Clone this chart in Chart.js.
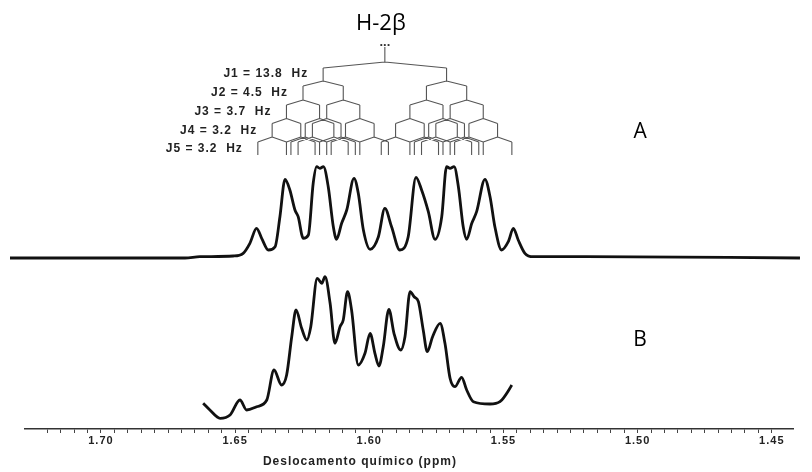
<!DOCTYPE html>
<html>
<head>
<meta charset="utf-8">
<title>H-2β</title>
<script src="https://cdn.jsdelivr.net/npm/chart.js@4.4.1/dist/chart.umd.min.js"></script>
<style>
  html, body { margin: 0; padding: 0; background: #fff; }
  #wrap { width: 812px; height: 472px; position: relative; }
</style>
</head>
<body>
<div id="wrap"><canvas id="nmr"></canvas></div>
<script>
// spectrum A (simulated multiplet) - chemical shift (ppm) and intensity (a.u.)
const ppmA = [1.7339, 1.6687, 1.6631, 1.6507, 1.6470, 1.6445, 1.6420, 1.6401, 1.6376, 1.6351,
  1.6333, 1.6314, 1.6296, 1.6277, 1.6265, 1.6246, 1.6227, 1.6209, 1.6196, 1.6184,
  1.6171, 1.6153, 1.6134, 1.6122, 1.6103, 1.6084, 1.6057, 1.6041, 1.6022, 1.5997,
  1.5966, 1.5942, 1.5917, 1.5886, 1.5855, 1.5826, 1.5805, 1.5780, 1.5755, 1.5730,
  1.5712, 1.5699, 1.5684, 1.5668, 1.5650, 1.5637, 1.5618, 1.5600, 1.5569, 1.5550,
  1.5532, 1.5507, 1.5482, 1.5463, 1.5445, 1.5420, 1.5389, 1.5192, 1.4395];
const intensityA = [0, 0, 1.3, 2, 4.7, 14.7, 29.7, 19.7, 8, 11.3,
  41.3, 78.7, 68, 48, 41.3, 19.7, 23, 74.7, 91.3, 89.7,
  91.3, 71.3, 31.3, 18.7, 34.7, 48, 79.7, 64.7, 28, 8.7,
  21.3, 49.7, 31.3, 8, 21.3, 80.7, 68, 46.3, 18.7, 41.3,
  91.3, 89.7, 91.3, 71.3, 31.3, 18.7, 34.7, 46.3, 78.7, 61.3,
  31.3, 8, 16.3, 29.7, 18, 4.7, 1.3, 1.3, 0];

// spectrum B (experimental)
const ppmB = [1.6619, 1.6594, 1.6556, 1.6519, 1.6482, 1.6457, 1.6420, 1.6382, 1.6355, 1.6327,
  1.6308, 1.6289, 1.6273, 1.6252, 1.6233, 1.6218, 1.6194, 1.6177, 1.6165, 1.6146,
  1.6128, 1.6109, 1.6097, 1.6081, 1.6066, 1.6041, 1.6016, 1.5997, 1.5979, 1.5964,
  1.5948, 1.5927, 1.5908, 1.5883, 1.5867, 1.5848, 1.5833, 1.5817, 1.5799, 1.5784,
  1.5764, 1.5736, 1.5718, 1.5699, 1.5681, 1.5656, 1.5637, 1.5612, 1.5550, 1.5513,
  1.5476, 1.5469];
const intensityB = [16.7, 10, 1.7, 5, 20, 10, 13.3, 20, 50, 35,
  45, 83.3, 110, 91.7, 80, 93.3, 141.7, 136.7, 143.3, 116.7,
  76.7, 93.3, 100, 128.3, 110, 55, 66.7, 86.7, 66.7, 54,
  73.3, 110.7, 86.7, 70, 83.3, 128.3, 123.3, 118.3, 90, 68.3,
  83.3, 96.7, 76.7, 41.7, 33.3, 42.7, 30, 18.3, 16, 18.3,
  31.7, 35];

// splitting tree
const couplingsHz = [13.8, 4.5, 3.7, 3.2, 3.2];
const couplingLabels = ['J1 = 13.8  Hz', 'J2 = 4.5  Hz', 'J3 = 3.7  Hz', 'J4 = 3.2  Hz', 'J5 = 3.2  Hz'];
const SPECTROMETER_MHZ = 300;
const CENTER_PPM = 1.5942;
const PEAK_LABEL = 'H-2β';
const spectrumLabels = ['A', 'B'];

// axis
const PPM_MIN = 1.4421, PPM_MAX = 1.7283;
const AXIS_TITLE = 'Deslocamento químico (ppm)';

// vertical layout (y units)
const A_BASE = 171, B_BASE = 9;
const STEM_TOP = 382;
const levelY = [367, 348, 329, 310.5, 292, 274];
const roofDrop = [6, 5, 5, 5, 5];

const toPoints = (xs, ys, base) => xs.map((v, i) => ({x: v, y: ys[i] + base}));

// build the tree line segments from the couplings
const treePts = [];
const seg = (x1, y1, x2, y2) => { treePts.push({x: x1, y: y1}, {x: x2, y: y2}, {x: x2, y: null}); };
let nodes = [CENTER_PPM];
const leftNodes = [];
seg(CENTER_PPM, STEM_TOP, CENTER_PPM, levelY[0]);
couplingsHz.forEach((j, k) => {
  const half = j / 2 / SPECTROMETER_MHZ;
  const top = levelY[k], roof = top - roofDrop[k], bottom = levelY[k + 1];
  const next = [];
  nodes.forEach(n => {
    seg(n, top, n + half, roof);
    seg(n, top, n - half, roof);
    seg(n + half, roof, n + half, bottom);
    seg(n - half, roof, n - half, bottom);
    next.push(n + half, n - half);
  });
  nodes = next;
  leftNodes.push(Math.max(...next));
});

const annotations = {
  id: 'annotations',
  beforeDraw(chart) { chart.ctx.letterSpacing = '1px'; },
  afterDatasetsDraw(chart) {
    const {ctx, scales: {x, y}} = chart;
    ctx.save();
    ctx.textBaseline = 'middle';

    ctx.letterSpacing = '0px';
    ctx.fillStyle = '#000';
    ctx.textAlign = 'center';
    ctx.font = '22px "Open Sans", sans-serif';
    ctx.fillText(PEAK_LABEL, x.getPixelForValue(CENTER_PPM) - 4, y.getPixelForValue(405));
    ctx.font = '21px "Open Sans", sans-serif';
    ctx.fillText(spectrumLabels[0], x.getPixelForValue(1.4991), y.getPixelForValue(297));
    ctx.fillText(spectrumLabels[1], x.getPixelForValue(1.4991), y.getPixelForValue(89));

    ctx.font = 'bold 13px "Liberation Sans", Arial, sans-serif';
    ctx.fillStyle = '#333';
    ctx.fillText('...', x.getPixelForValue(CENTER_PPM), y.getPixelForValue(STEM_TOP) - 5);

    ctx.letterSpacing = '1px';
    ctx.fillStyle = '#222';
    ctx.textAlign = 'right';
    ctx.font = 'bold 12px "Liberation Sans", Arial, sans-serif';
    couplingLabels.forEach((t, k) => {
      ctx.fillText(t, x.getPixelForValue(leftNodes[k]) - 15, y.getPixelForValue(levelY[k]) + 12);
    });

    ctx.textAlign = 'center';
    ctx.fillText(AXIS_TITLE, x.getPixelForValue(1.6035), 462);
    ctx.restore();
  },
  afterDraw(chart) { chart.ctx.letterSpacing = '0px'; }
};

new Chart(document.getElementById('nmr'), {
  type: 'line',
  data: {
    datasets: [
      {
        label: 'A',
        data: toPoints(ppmA, intensityA, A_BASE),
        borderColor: '#111',
        borderWidth: 2.8,
        pointRadius: 0,
        cubicInterpolationMode: 'monotone',
        clip: false
      },
      {
        label: 'B',
        data: toPoints(ppmB, intensityB, B_BASE),
        borderColor: '#111',
        borderWidth: 2.8,
        pointRadius: 0,
        cubicInterpolationMode: 'monotone'
      },
      {
        label: 'tree',
        data: treePts,
        borderColor: '#555',
        borderWidth: 1.1,
        pointRadius: 0,
        tension: 0,
        spanGaps: false
      }
    ]
  },
  options: {
    responsive: true,
    maintainAspectRatio: false,
    animation: false,
    events: [],
    layout: { padding: { left: 25, right: 19, top: 0, bottom: 0 } },
    plugins: { legend: { display: false }, tooltip: { enabled: false } },
    scales: {
      x: {
        type: 'linear',
        reverse: true,
        min: PPM_MIN,
        max: PPM_MAX,
        afterFit: (scale) => { scale.height = 43; },
        afterBuildTicks: (scale) => {
          scale.ticks = scale.ticks.filter(t => Math.abs(t.value * 200 - Math.round(t.value * 200)) < 1e-6);
        },
        border: { display: true, color: '#333', width: 1.5 },
        grid: { drawOnChartArea: false, drawTicks: true, tickLength: 4, color: '#444' },
        ticks: {
          stepSize: 0.005,
          autoSkip: false,
          maxRotation: 0,
          padding: 1,
          color: '#222',
          font: { family: '"Liberation Sans", Arial, sans-serif', size: 11, weight: 'bold' },
          callback: (v) => Math.abs(v * 20 - Math.round(v * 20)) < 1e-6 ? v.toFixed(2) : ''
        }
      },
      y: { display: false, min: 0, max: 429 }
    }
  },
  plugins: [annotations]
});
</script>
</body>
</html>
